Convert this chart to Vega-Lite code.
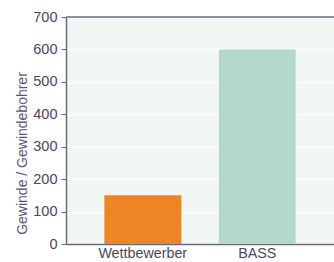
{
  "$schema": "https://vega.github.io/schema/vega-lite/v6.json",
  "autosize": "none",
  "width": 268,
  "height": 227,
  "padding": {"left": 66, "top": 17, "right": 0, "bottom": 18},
  "background": "white",
  "config": {
    "view": {"fill": "#f1f7f3", "stroke": null},
    "font": "Liberation Sans",
    "axisY": {
      "values": [0, 100, 200, 300, 400, 500, 600, 700],
      "labelOverlap": false,
      "titleFontSize": 14,
      "titleFontWeight": "normal",
      "titleColor": "#5a5670",
      "titlePadding": 3,
      "titleY": 136,
      "labelFontSize": 14.5,
      "labelColor": "#4a4760",
      "labelPadding": 4,
      "tickSize": 5,
      "tickColor": "#6b6880",
      "domainColor": "#6b6880",
      "domainWidth": 1.5,
      "gridColor": "white",
      "gridWidth": 1.5
    }
  },
  "data": {
    "values": [
      {"kategorie": "Wettbewerber", "wert": 150},
      {"kategorie": "BASS", "wert": 600}
    ]
  },
  "layer": [
    {
      "mark": {"type": "bar"},
      "encoding": {
        "x": {
          "field": "kategorie",
          "type": "nominal",
          "sort": null,
          "scale": {"paddingInner": 0.33, "paddingOuter": 0.335},
          "axis": {
            "title": null,
            "labelAngle": 0,
            "labelFontSize": 14.3,
            "labelColor": "#4a4760",
            "labelPadding": 2,
            "ticks": false,
            "domainColor": "#6b6880",
            "domainWidth": 1.5
          }
        },
        "y": {
          "field": "wert",
          "type": "quantitative",
          "scale": {"domain": [0, 700]},
          "title": "Gewinde / Gewindebohrer",
          "axis": {"values": [0, 100, 200, 300, 400, 500, 600, 700]}
        },
        "color": {
          "field": "kategorie",
          "type": "nominal",
          "scale": {"domain": ["Wettbewerber", "BASS"], "range": ["#ee8424", "#b2d8cc"]},
          "legend": null
        }
      }
    },
    {
      "mark": {"type": "rule", "color": "#8a879a", "strokeWidth": 1.5},
      "encoding": {
        "y": {"datum": 700, "title": "Gewinde / Gewindebohrer", "axis": {"values": [0, 100, 200, 300, 400, 500, 600, 700]}}
      }
    }
  ]
}
